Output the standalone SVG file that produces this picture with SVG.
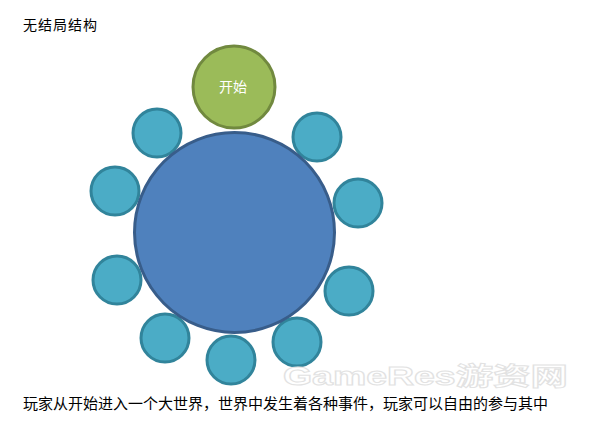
<svg xmlns="http://www.w3.org/2000/svg" width="590" height="422" viewBox="0 0 590 422">
  <style>
    .txt { font-family: "Noto Sans CJK SC", "Liberation Sans", sans-serif; fill: #000; }
    .small { fill: #4BACC6; stroke: #31849B; stroke-width: 3; }
    .world { fill: #4F81BD; stroke: #385D8A; stroke-width: 3; }
    .start { fill: #9BBB59; stroke: #71893F; stroke-width: 3; }
    .wm { font-family: "Liberation Sans", "Noto Sans CJK SC", sans-serif; font-weight: bold; fill: #ffffff; stroke: #e2e2e2; stroke-width: 1; }
  </style>
  <rect width="590" height="422" fill="#ffffff"/>
  <text class="txt" x="23" y="30" font-size="14" textLength="74">无结局结构</text>
  <g id="connectors"></g>
  <g id="event1"><circle class="small" cx="157" cy="133" r="24"/></g>
  <g id="event2"><circle class="small" cx="115" cy="191" r="24"/></g>
  <g id="event3"><circle class="small" cx="117" cy="280" r="24"/></g>
  <g id="event4"><circle class="small" cx="165" cy="338" r="24"/></g>
  <g id="event5"><circle class="small" cx="231" cy="360" r="24"/></g>
  <g id="event6"><circle class="small" cx="297" cy="342" r="24"/></g>
  <g id="event7"><circle class="small" cx="349" cy="291" r="24"/></g>
  <g id="event8"><circle class="small" cx="358" cy="203" r="24"/></g>
  <g id="event9"><circle class="small" cx="317" cy="137" r="24"/></g>
  <g id="world"><circle class="world" cx="234.5" cy="232.5" r="100"/></g>
  <g id="start">
    <circle class="start" cx="234" cy="87" r="41"/>
    <text x="233" y="92" font-size="14" text-anchor="middle" font-family="Noto Sans CJK SC, Liberation Sans, sans-serif" fill="#ffffff">开始</text>
  </g>
  <text class="wm" x="283" y="385" font-size="25" textLength="285" lengthAdjust="spacingAndGlyphs">GameRes游资网</text>
  <text class="txt" x="23" y="409" font-size="15" textLength="525">玩家从开始进入一个大世界，世界中发生着各种事件，玩家可以自由的参与其中</text>
</svg>
